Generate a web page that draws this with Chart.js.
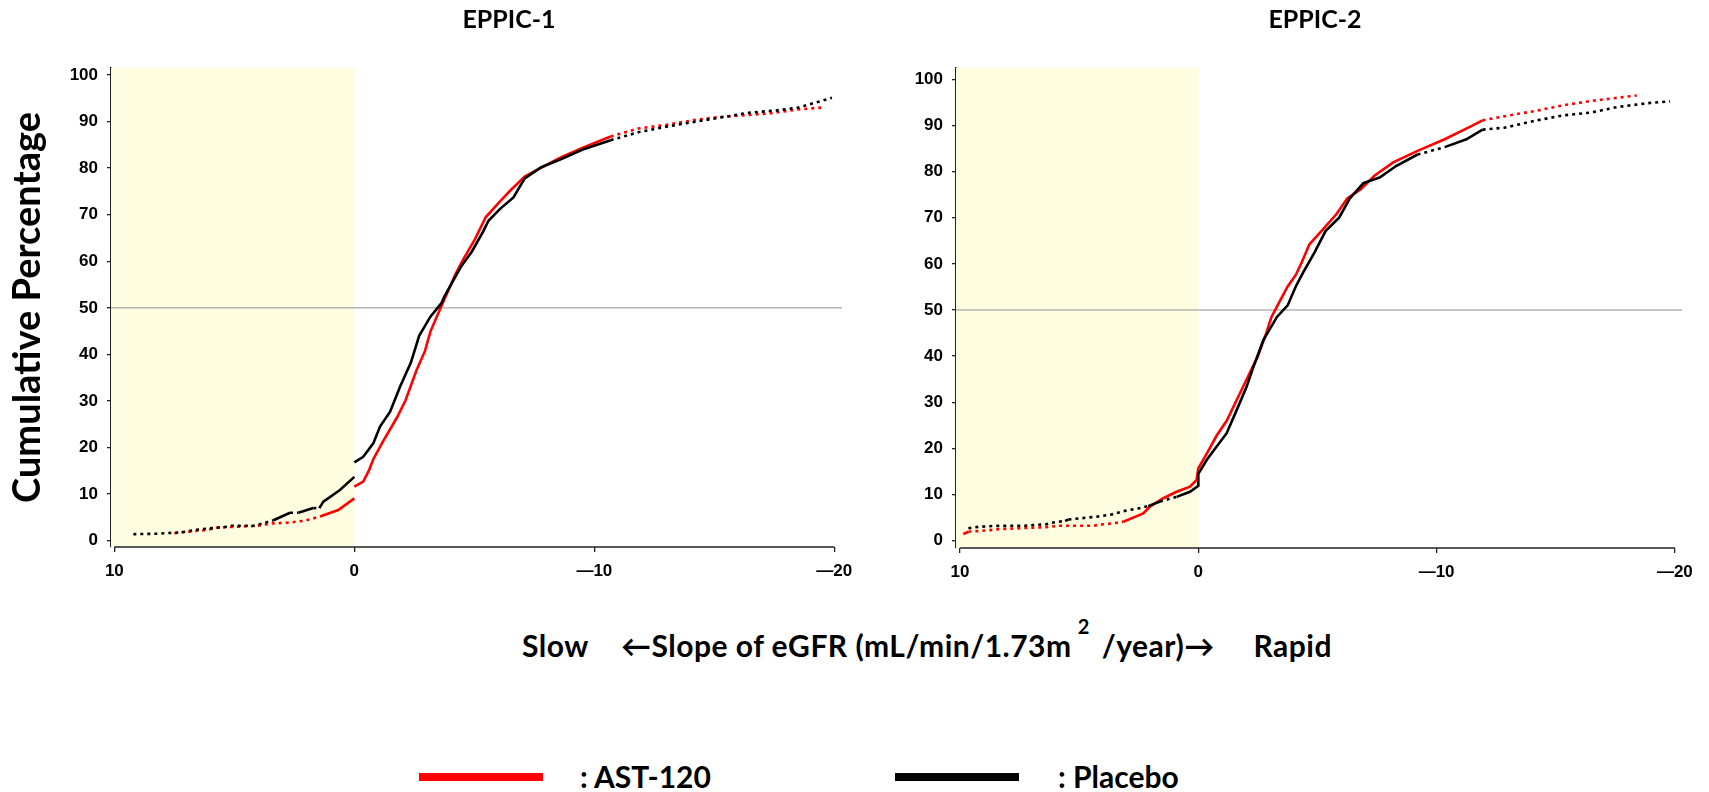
<!DOCTYPE html>
<html>
<head>
<meta charset="utf-8">
<script src="https://cdn.jsdelivr.net/npm/chart.js@4.4.1/dist/chart.umd.min.js"></script>
<style>
  body { margin: 0; background: #fff; }
  #page { position: relative; width: 1709px; height: 792px; overflow: hidden; font-family: Lato, "Noto Sans", sans-serif; font-weight: 700; color: #000; }
  canvas { position: absolute; top: 0; }
  #cv1 { left: 0; }
  #cv2 { left: 870px; }
  .ttl { position: absolute; top: 6px; font-size: 25px; line-height: 25px; transform: translateX(-50%); white-space: nowrap; }
  .xt { position: absolute; top: 630px; font-size: 30px; line-height: 30px; letter-spacing: 0.5px; white-space: nowrap; }
  .sup { display: inline-block; font-size: 20px; line-height: 0; transform: translateY(-23px); margin: 0 12px 0 6px; }
  .key { position: absolute; top: 773px; height: 8px; width: 124px; }
  .keytxt { position: absolute; top: 761px; font-size: 30px; line-height: 30px; white-space: nowrap; }
</style>
</head>
<body>
<div id="page">
  <canvas id="cv1" width="870" height="600"></canvas>
  <canvas id="cv2" width="839" height="600"></canvas>
  <div class="ttl" id="t1" style="left:509px"></div>
  <div class="ttl" id="t2" style="left:1315px"></div>
  <div class="xt" style="left:522px">Slow</div>
  <div class="xt" style="left:621px">←Slope of eGFR (mL/min/1.73m<span class="sup">2</span>/year)→</div>
  <div class="xt" style="right:377px">Rapid</div>
  <div class="key" id="k1" style="left:419px"></div>
  <div class="keytxt" id="kt1" style="left:580px"></div>
  <div class="key" id="k2" style="left:895px"></div>
  <div class="keytxt" id="kt2" style="left:1058px"></div>
</div>
<script>
// panel titles and treatment groups
const panelTitles = ['EPPIC-1', 'EPPIC-2'];
const groupNames = ['AST-120', 'Placebo'];
const groupColors = ['#ff0000', '#000000'];

const xTickValues = [10, 0, -10, -20];
const yTickValues = [0, 10, 20, 30, 40, 50, 60, 70, 80, 90, 100];

// cumulative percentage vs eGFR slope, [slope, %]; null breaks the curve
const eppic1Ast120 = [
  [7.5, 1.6], [7.26, 1.8], [6.15, 2.3], [5.73, 2.8], [4.9, 3.0], [4.07, 3.2], [3.44, 3.7],
  [2.68, 3.9], [2.4, 4.1], [2.05, 4.3], [1.43, 5.2], [0.67, 6.6], [0, 9.1], null,
  [0, 11.6], [-0.37, 12.7], [-0.6, 15.0], [-0.79, 17.5], [-1.2, 21.4], [-1.77, 26.4],
  [-2.13, 30.1], [-2.59, 36.6], [-2.94, 40.7], [-3.17, 44.9], [-3.51, 49.0], [-3.86, 53.1],
  [-4.21, 57.2], [-4.55, 60.5], [-5.01, 64.6], [-5.48, 69.5], [-6.06, 72.8], [-6.52, 75.3],
  [-7.1, 78.2], [-7.67, 79.8], [-8.6, 82.3], [-9.52, 84.4], [-10.68, 86.8], [-11.83, 88.5],
  [-12.99, 89.3], [-14.14, 90.3], [-15.07, 90.9], [-17.38, 91.8], [-18.5, 92.6], [-19.46, 93.0]
];
const eppic1Placebo = [
  [9.21, 1.4], [8.26, 1.5], [7.19, 1.8], [6.64, 2.3], [5.36, 3.0], [5.15, 3.2], [4.14, 3.2],
  [3.37, 4.4], [2.68, 6.0], [2.33, 6.0], [1.71, 7.0], [1.46, 7.0], [1.29, 8.4], [0.6, 10.9],
  [0, 13.7], null,
  [0, 16.8], [-0.37, 18.0], [-0.79, 20.9], [-1.07, 24.5], [-1.49, 27.7], [-1.9, 33.0],
  [-2.36, 38.3], [-2.7, 44.0], [-3.17, 48.1], [-3.63, 51.0], [-3.74, 52.3], [-4.09, 55.6],
  [-4.44, 58.8], [-4.9, 62.1], [-5.36, 66.3], [-5.59, 68.7], [-6.06, 71.2], [-6.63, 73.7],
  [-7.1, 77.8], [-7.79, 80.2], [-8.6, 81.9], [-9.52, 84.0], [-10.68, 86.0], [-11.83, 87.7],
  [-12.99, 88.9], [-13.9, 89.7], [-15.3, 90.9], [-16.45, 91.9], [-17.6, 92.4], [-18.5, 93.0],
  [-19.9, 95.1]
];
const eppic2Ast120 = [
  [9.86, 1.45], [9.65, 1.95], [9.16, 2.1], [8.74, 2.3], [8.39, 2.5], [7.48, 2.7], [6.15, 3.0],
  [5.94, 3.25], [4.41, 3.25], [3.99, 3.55], [3.57, 3.77], [3.15, 4.1], [2.73, 5.0], [2.31, 5.9],
  [2.03, 7.4], [1.47, 9.2], [0.91, 10.6], [0.35, 11.7], [0.07, 13.2], [0, 15.7], [-0.35, 18.8],
  [-0.77, 22.8], [-1.19, 26.0], [-1.61, 30.5], [-2.03, 35.0], [-2.5, 40.0], [-2.85, 45.0],
  [-3.07, 48.5], [-3.41, 51.8], [-3.75, 55.1], [-4.09, 57.6], [-4.32, 60.1], [-4.66, 64.2],
  [-5.23, 67.5], [-5.8, 70.8], [-6.25, 74.2], [-6.82, 76.2], [-7.39, 79.1], [-8.18, 82.0],
  [-9.2, 84.5], [-10.34, 87.0], [-11.48, 89.9], [-11.93, 91.1], [-13.07, 92.2], [-14.2, 93.2],
  [-15.34, 94.4], [-16.48, 95.3], [-18.4, 96.5]
];
const eppic2Placebo = [
  [9.65, 2.7], [9.23, 3.0], [8.6, 3.2], [7.27, 3.25], [6.36, 3.6], [6.15, 3.9], [5.59, 4.3],
  [5.45, 4.6], [4.68, 5.0], [4.26, 5.2], [3.63, 5.7], [3.15, 6.4], [2.52, 7.0], [2.1, 7.5],
  [1.61, 8.5], [0.91, 9.5], [0.35, 10.6], [0, 11.9], [0, 14.5], [-0.35, 17.5], [-0.77, 20.4],
  [-1.19, 23.3], [-1.61, 28.3], [-2.03, 33.4], [-2.3, 37.5], [-2.73, 43.5], [-3.3, 48.5],
  [-3.75, 51.0], [-4.09, 55.1], [-4.43, 58.4], [-4.89, 62.6], [-5.34, 67.1], [-5.91, 70.0],
  [-6.36, 74.2], [-6.93, 77.5], [-7.61, 78.7], [-8.3, 81.2], [-9.2, 83.7], [-10.34, 85.3],
  [-11.25, 87.0], [-11.93, 89.1], [-12.84, 89.5], [-14.2, 91.1], [-15.34, 92.2], [-16.48, 92.8],
  [-17.6, 94.0], [-18.98, 94.9], [-19.8, 95.2]
];

// text outside the canvases
document.getElementById('t1').textContent = panelTitles[0];
document.getElementById('t2').textContent = panelTitles[1];
document.getElementById('k1').style.background = groupColors[0];
document.getElementById('k2').style.background = groupColors[1];
document.getElementById('kt1').textContent = ': ' + groupNames[0];
document.getElementById('kt2').textContent = ': ' + groupNames[1];

const toPoints = arr => arr.map(p => p ? { x: p[0], y: p[1] } : { x: NaN, y: null });

// sparse stretches of the curve are drawn dotted
function sparseDash(seg) {
  const a = seg.p0.parsed, b = seg.p1.parsed;
  const dx = Math.abs(b.x - a.x);
  const slope = dx === 0 ? 99 : Math.abs(b.y - a.y) / dx;
  return slope < 1.6 ? [3, 4] : undefined;
}

// pale yellow band for positive slopes + 50% guide line + x axis line
const panelDecor = {
  id: 'panelDecor',
  beforeDatasetsDraw(chart) {
    const { ctx, chartArea: a, scales: { x, y } } = chart;
    ctx.save();
    ctx.fillStyle = '#fefde0';
    ctx.fillRect(a.left, a.top, x.getPixelForValue(0) - a.left, a.bottom - a.top);
    ctx.strokeStyle = '#b4b4b4';
    ctx.lineWidth = 1.5;
    const y50 = y.getPixelForValue(50);
    ctx.beginPath();
    ctx.moveTo(a.left, y50);
    ctx.lineTo(a.right, y50);
    ctx.stroke();
    ctx.restore();
  },
  afterDraw(chart) {
    const { ctx, chartArea: a, scales: { x } } = chart;
    ctx.save();
    ctx.strokeStyle = '#222';
    ctx.lineWidth = 1.5;
    ctx.beginPath();
    ctx.moveTo(x.getPixelForValue(xTickValues[0]), a.bottom);
    ctx.lineTo(x.getPixelForValue(xTickValues[xTickValues.length - 1]), a.bottom);
    ctx.stroke();
    ctx.restore();
  }
};

function makePanel(id, ast, placebo, opt) {
  const tickFont = { family: '"Liberation Sans", Arial, sans-serif', size: 17, weight: 'bold' };
  const line = (data, i) => ({
    label: groupNames[i],
    data: toPoints(data),
    borderColor: groupColors[i],
    backgroundColor: groupColors[i],
    borderWidth: 2.6,
    pointRadius: 0,
    tension: 0,
    spanGaps: false,
    segment: { borderDash: sparseDash }
  });
  return new Chart(document.getElementById(id), {
    type: 'line',
    data: { datasets: [line(placebo, 1), line(ast, 0)] },
    options: {
      responsive: false,
      animation: false,
      events: [],
      layout: { padding: { left: 0, right: opt.padRight, top: 68, bottom: 0 } },
      plugins: { legend: { display: false }, tooltip: { enabled: false } },
      scales: {
        x: {
          type: 'linear',
          reverse: true,
          min: opt.xMin, max: opt.xMax,
          afterBuildTicks: s => { s.ticks = xTickValues.map(v => ({ value: v })); },
          afterFit: s => { s.height = opt.xHeight; },
          border: { display: false },
          grid: { drawOnChartArea: false, drawTicks: true, tickLength: 5, color: '#222', lineWidth: 1.3 },
          ticks: {
            font: tickFont, color: '#000', padding: 9, maxRotation: 0,
            callback: v => v < 0 ? '\u2014' + Math.abs(v) : String(v)
          }
        },
        y: {
          type: 'linear',
          min: opt.yMin, max: opt.yMax,
          afterBuildTicks: s => { s.ticks = yTickValues.map(v => ({ value: v })); },
          afterFit: s => { s.width = opt.yWidth; },
          border: { display: true, color: '#222', width: 1.5 },
          grid: { drawOnChartArea: false, drawTicks: true, tickLength: 4, color: '#222', lineWidth: 1.3 },
          ticks: { font: tickFont, color: '#000', padding: 9 },
          title: {
            display: !!opt.yTitle,
            text: opt.yTitle || '',
            color: '#000',
            font: { family: 'Lato, "Noto Sans", sans-serif', size: 38, weight: 'bold' },
            padding: { top: 5, bottom: 0 }
          }
        }
      }
    },
    plugins: [panelDecor]
  });
}

makePanel('cv1', eppic1Ast120, eppic1Placebo, {
  padRight: 28, xHeight: 53, yWidth: 111,
  xMin: -20.32, xMax: 10.14, yMin: -1.35, yMax: 101.5,
  yTitle: 'Cumulative Percentage'
});
makePanel('cv2', eppic2Ast120, eppic2Placebo, {
  padRight: 27, xHeight: 52, yWidth: 86,
  xMin: -20.3, xMax: 10.17, yMin: -1.58, yMax: 102.45
});
</script>
</body>
</html>
